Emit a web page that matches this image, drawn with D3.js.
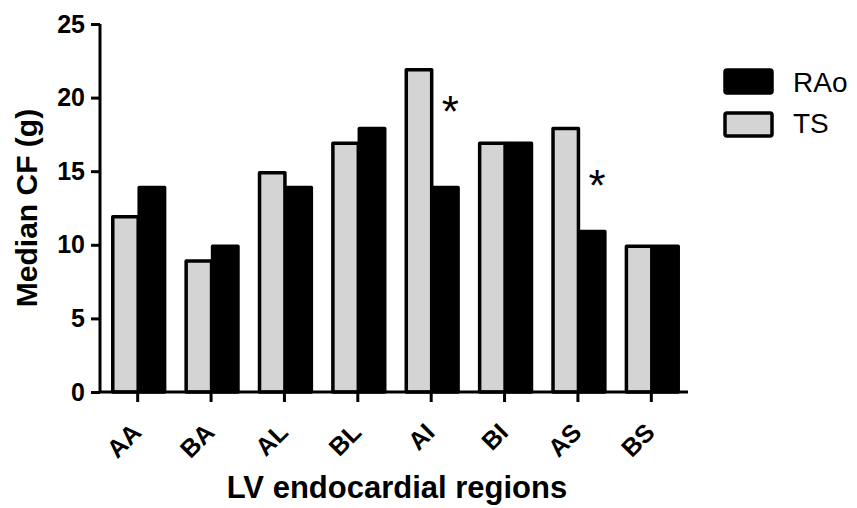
<!DOCTYPE html>
<html>
<head>
<meta charset="utf-8">
<script src="https://cdn.jsdelivr.net/npm/d3@7"></script>
<style>
  body { margin: 0; background: #fff; }
  text { font-family: Arial, "Liberation Sans", sans-serif; }
</style>
</head>
<body>
<div id="grafico"></div>
<script>
const regions = ['AA', 'BA', 'AL', 'BL', 'AI', 'BI', 'AS', 'BS']
const seriesNames = ['TS', 'RAo']
const tsValues = [12, 9, 15, 17, 22, 17, 18, 10]
const raoValues = [14, 10, 14, 18, 14, 17, 11, 10]
const yTicks = [0, 5, 10, 15, 20, 25]
// significance markers: region and the level (in g) where the star sits
const starRegions = ['AI', 'AS']
const starLevels = [19.4, 14.4]

const width = 857
const height = 508
const margin = {top: 24, right: 169, bottom: 116, left: 101}

const fills = {TS: '#d4d4d4', RAo: '#000'}

const svg = d3.select('#grafico')
              .append('svg')
              .attr('width', width)
              .attr('height', height)

const x0 = d3.scaleBand()
             .domain(regions)
             .range([margin.left, width - margin.right])
             .paddingInner(0.28)
             .paddingOuter(0.14)

const x1 = d3.scaleBand()
             .domain(seriesNames)
             .range([0, x0.bandwidth()])

const y = d3.scaleLinear()
            .domain([0, 25])
            .range([height - margin.bottom, margin.top])

const data = regions.map((r, i) => ({region: r, TS: tsValues[i], RAo: raoValues[i]}))

const grupos = svg.selectAll('g.grupo')
                  .data(data)
                  .enter()
                  .append('g')
                  .attr('class', 'grupo')
                  .attr('transform', d => `translate(${x0(d.region)}, 0)`)

grupos.selectAll('rect')
      .data(d => seriesNames.map(s => ({key: s, value: d[s]})))
      .enter()
      .append('rect')
      .attr('x', d => x1(d.key) + 1.5)
      .attr('y', d => y(d.value) + 1.5)
      .attr('width', x1.bandwidth() - 1)
      .attr('height', d => y(0) - y(d.value) - 1.5)
      .style('fill', d => fills[d.key])
      .style('stroke', '#000')
      .style('stroke-width', 3.5)
      .style('stroke-linejoin', 'round')

// asterisks
svg.selectAll('text.star')
   .data(starRegions.map((r, i) => ({region: r, level: starLevels[i]})))
   .enter()
   .append('text')
   .attr('class', 'star')
   .attr('x', d => x0(d.region) + x1('RAo') + x1.bandwidth() / 2 + 6)
   .attr('y', d => y(d.level) + 21)
   .attr('text-anchor', 'middle')
   .style('font-size', '44px')
   .text('*')

// axes
const yAxis = svg.append('g')
                 .attr('transform', `translate(${margin.left - 1}, 0)`)
                 .call(d3.axisLeft(y).tickValues(yTicks).tickSize(9).tickPadding(6))

const xAxis = svg.append('g')
                 .attr('transform', `translate(0, ${y(0)})`)
                 .call(d3.axisBottom(x0).tickSize(10).tickFormat(''))

svg.selectAll('.domain, .tick line')
   .style('stroke', '#000')
   .style('stroke-width', 3)

xAxis.select('.domain').attr('d', `M${margin.left - 1},0H${width - margin.right}`)
yAxis.select('.domain').attr('d', `M0,${y(25)}V${y(0)}`)

yAxis.selectAll('text')
     .style('font-size', '25px')
     .style('font-weight', 'bold')
     .style('fill', '#000')

svg.append('g')
   .selectAll('text')
   .data(regions)
   .enter()
   .append('text')
   .attr('transform', d => `translate(${x0(d) + x0.bandwidth() / 2 + 5}, ${y(0) + 42}) rotate(-45)`)
   .attr('text-anchor', 'end')
   .style('font-size', '25px')
   .style('font-weight', 'bold')
   .text(d => d)

// axis titles
svg.append('text')
   .attr('transform', `translate(37, ${(y(0) + y(25)) / 2}) rotate(-90)`)
   .attr('text-anchor', 'middle')
   .style('font-size', '30px')
   .style('font-weight', 'bold')
   .text('Median CF (g)')

svg.append('text')
   .attr('x', 397)
   .attr('y', 498)
   .attr('text-anchor', 'middle')
   .style('font-size', '31px')
   .style('font-weight', 'bold')
   .text('LV endocardial regions')

// legend
const legendSeries = ['RAo', 'TS']
const legend = svg.append('g')
                  .attr('transform', 'translate(725, 70)')

legend.selectAll('rect')
      .data(legendSeries)
      .enter()
      .append('rect')
      .attr('x', 0)
      .attr('y', (d, i) => i * 43)
      .attr('width', 47)
      .attr('height', 23)
      .attr('rx', 2)
      .style('fill', d => fills[d])
      .style('stroke', '#000')
      .style('stroke-width', 3.5)

legend.selectAll('text')
      .data(legendSeries)
      .enter()
      .append('text')
      .attr('x', 68)
      .attr('y', (d, i) => i * 41 + 22)
      .style('font-size', '28px')
      .text(d => d)
</script>
</body>
</html>
